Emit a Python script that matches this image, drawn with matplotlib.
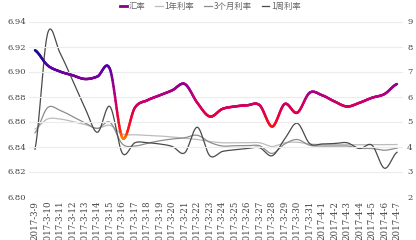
import matplotlib
matplotlib.use('Agg')
import matplotlib.pyplot as plt
import numpy as np
from matplotlib.collections import LineCollection
from matplotlib.colors import LinearSegmentedColormap
from matplotlib.lines import Line2D

plt.rcParams['font.family'] = ['Noto Sans CJK SC', 'DejaVu Sans']

dates = ['2017-3-9', '2017-3-10', '2017-3-11', '2017-3-12', '2017-3-13', '2017-3-14',
         '2017-3-15', '2017-3-16', '2017-3-17', '2017-3-18', '2017-3-19', '2017-3-20',
         '2017-3-21', '2017-3-22', '2017-3-23', '2017-3-24', '2017-3-25', '2017-3-26',
         '2017-3-27', '2017-3-28', '2017-3-29', '2017-3-30', '2017-3-31', '2017-4-1',
         '2017-4-2', '2017-4-3', '2017-4-4', '2017-4-5', '2017-4-6', '2017-4-7']

# 汇率 (left axis)
fx_rate = [6.917, 6.905, 6.900, 6.897, 6.894, 6.896, 6.902, 6.847, 6.871, 6.877,
           6.881, 6.885, 6.890, 6.875, 6.864, 6.870, 6.872, 6.873, 6.873, 6.856,
           6.874, 6.867, 6.883, 6.881, 6.876, 6.872, 6.875, 6.879, 6.882, 6.890]

# rates (right axis)
rate_1y = [4.70, 5.10, 5.10, 5.00, 4.88, 4.73, 4.85, 4.50, 4.47, 4.45,
           4.42, 4.38, 4.33, 4.28, 4.20, 4.15, 4.15, 4.15, 4.15, 4.00,
           4.15, 4.17, 4.10, 4.08, 4.08, 4.07, 4.07, 4.07, 4.07, 4.08]
rate_3m = [4.55, 5.55, 5.45, 5.20, 4.95, 4.72, 4.97, 4.10, 4.02, 4.13,
           4.23, 4.30, 4.35, 4.45, 4.17, 4.02, 4.03, 4.03, 4.03, 3.72,
           4.10, 4.28, 4.05, 4.02, 4.02, 4.02, 3.93, 3.92, 3.85, 3.93]
rate_1w = [3.89, 8.50, 7.75, 6.65, 5.55, 4.57, 5.60, 3.73, 4.15, 4.15,
           4.10, 4.00, 3.75, 4.77, 3.63, 3.80, 3.87, 3.92, 3.95, 3.63,
           4.30, 4.93, 4.12, 4.10, 4.12, 4.15, 3.92, 4.05, 3.13, 3.77]

left_ticks = [6.80, 6.82, 6.84, 6.86, 6.88, 6.90, 6.92, 6.94]
right_ticks = [2, 3, 4, 5, 6, 7, 8, 9]

serif = ['DejaVu Serif']


def smooth(xs, ys, n=24):
    # catmull-rom through the points
    x = np.asarray(xs, float)
    y = np.asarray(ys, float)
    px = np.concatenate([[2 * x[0] - x[1]], x, [2 * x[-1] - x[-2]]])
    py = np.concatenate([[y[0]], y, [y[-1]]])
    t = np.linspace(0, 1, n, endpoint=False)
    ox, oy = [], []
    for i in range(1, len(px) - 2):
        for p, o in ((px, ox), (py, oy)):
            p0, p1, p2, p3 = p[i - 1], p[i], p[i + 1], p[i + 2]
            m1 = (p2 - p0) / 2
            m2 = (p3 - p1) / 2
            h00 = 2 * t**3 - 3 * t**2 + 1
            h10 = t**3 - 2 * t**2 + t
            h01 = -2 * t**3 + 3 * t**2
            h11 = t**3 - t**2
            o.extend(h00 * p1 + h10 * m1 + h01 * p2 + h11 * m2)
    ox.append(x[-1])
    oy.append(y[-1])
    return np.array(ox), np.array(oy)


fig = plt.figure(figsize=(4.16, 2.40), dpi=100)
ax = fig.add_axes([29 / 416, 1 - 196.5 / 240, 374 / 416, 175 / 240])
ax2 = ax.twinx()

xi = np.arange(len(dates))

ax.set_ylim(6.80, 6.94)
ax2.set_ylim(2, 9)
ax.set_xlim(-0.48, len(dates) - 1 + 0.48)
ax.set_yticks(left_ticks)
ax.set_yticklabels(['%.2f' % v for v in left_ticks])
ax2.set_yticks(right_ticks)
ax.grid(axis='y', color='#ececec', linewidth=0.8)
ax.set_axisbelow(True)

for a in (ax, ax2):
    for s in a.spines.values():
        s.set_visible(False)
    a.tick_params(length=0, labelsize=6, colors='#444444')
    for lab in a.get_yticklabels():
        lab.set_family(serif)
ax.tick_params(axis='y', pad=2)
ax2.tick_params(axis='y', pad=3)

ax.set_xticks(xi)
ax.set_xticklabels(dates, rotation=90, fontsize=6.2, family=serif)
ax.tick_params(axis='x', pad=3)

# rates on right axis
for vals, col in ((rate_1y, '#bcbcbc'), (rate_3m, '#8c8c8c'), (rate_1w, '#4a4a4a')):
    sx, sy = smooth(xi, vals)
    ax2.plot(sx, sy, color=col, linewidth=0.9)

# exchange rate, coloured by value
cmap = LinearSegmentedColormap.from_list('fx', [
    (0.0, '#ff7a00'), (0.08, '#ff1a10'), (0.25, '#e8003c'), (0.45, '#c0007a'),
    (0.62, '#900090'), (0.8, '#5a00a8'), (1.0, '#10108a')])
sx, sy = smooth(xi, fx_rate)
pts = np.column_stack([sx, sy]).reshape(-1, 1, 2)
segs = np.concatenate([pts[:-1], pts[1:]], axis=1)
lc = LineCollection(segs, cmap=cmap, norm=plt.Normalize(min(fx_rate), max(fx_rate)),
                    linewidth=1.8, capstyle='round', zorder=5)
lc.set_array((sy[:-1] + sy[1:]) / 2)
ax.add_collection(lc)
ax.set_zorder(ax2.get_zorder() + 1)
ax.patch.set_visible(False)

handles = [Line2D([], [], color='#8a0080', linewidth=2),
           Line2D([], [], color='#bcbcbc', linewidth=0.9),
           Line2D([], [], color='#8c8c8c', linewidth=0.9),
           Line2D([], [], color='#4a4a4a', linewidth=0.9)]
fig.legend(handles, ['汇率', '1年利率', '3个月利率', '1周利率'], loc='upper center',
           bbox_to_anchor=(0.505, 1.025), ncol=4, frameon=False, fontsize=6,
           handlelength=0.9, handletextpad=0.2, columnspacing=1.2, labelcolor='#666666')

fig.savefig('out.png', dpi=100)
